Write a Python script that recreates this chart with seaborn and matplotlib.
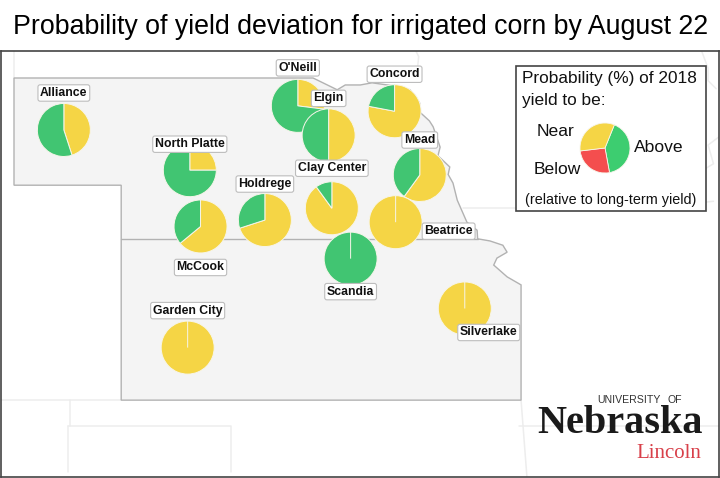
"""Probability of yield deviation for irrigated corn, pies on a state map."""
import matplotlib
matplotlib.use("Agg")
import matplotlib.pyplot as plt
from matplotlib.patches import Rectangle
from matplotlib.transforms import Affine2D
import seaborn as sns

sns.set_theme(style="white")
plt.rcParams["font.family"] = ["Liberation Sans", "DejaVu Sans"]

# ── data ──────────────────────────────────────────────────────────────────────
SITES = ["Alliance", "North Platte", "McCook", "Holdrege", "O'Neill", "Elgin", "Concord",
         "Mead", "Clay Center", "Beatrice", "Scandia", "Silverlake", "Garden City"]
LON = [-103.12, -100.77, -100.57, -99.37, -98.755, -98.18, -96.95,
       -96.48, -98.12, -96.93, -97.77, -95.64, -100.81]
LAT = [42.03, 41.28, 40.23, 40.35, 42.48, 41.93, 42.38,
       41.19, 40.57, 40.31, 39.63, 38.70, 37.97]
NEAR = [45, 25, 64, 70, 27, 50, 78, 60, 90, 100, 0, 100, 100]
ABOVE = [55, 75, 36, 30, 73, 50, 22, 40, 10, 0, 100, 0, 0]

KEY_ABOVE, KEY_BELOW, KEY_NEAR = 41, 26, 33

# state outline, clockwise from the north-west corner (lon, lat)
STATE_LON = [-104.05, -98.47, -98.02, -97.87, -97.59, -97.37, -96.94, -96.66, -96.48, -96.52,
             -96.42, -96.30, -96.23, -96.10, -96.14, -95.92, -95.95, -95.86, -95.78, -95.60,
             -95.41, -95.40, -95.17, -94.93, -94.85, -95.04, -95.10, -94.85, -94.59,
             -94.59, -102.05, -102.05, -104.05]
STATE_LAT = [43.00, 43.00, 42.78, 42.87, 42.87, 42.91, 42.85, 42.78, 42.53, 42.40,
             42.31, 42.20, 42.09, 41.71, 41.55, 41.34, 41.20, 41.04, 40.72, 40.31,
             40.16, 40.00, 39.96, 39.88, 39.75, 39.64, 39.51, 39.29, 39.14,
             36.99, 36.99, 41.00, 41.00]
BORDER_LON = [-102.05, -95.40]
BORDER_LAT = [40.00, 40.00]

# faint neighbouring borders as (lons, lats)
NEIGHBOURS = [
    ([-104.05, -104.05], [43.00, 43.50]),
    ([-104.31, -102.05], [36.99, 36.99]),
    ([-103.00, -103.00], [36.99, 36.50]),
    ([-103.04, -100.00, -100.00], [36.50, 36.50, 35.65]),
    ([-103.04, -103.04], [36.50, 35.65]),
    ([-94.59, -94.48], [36.99, 35.55]),
    ([-94.62, -90.90], [36.50, 36.50]),
    ([-95.67, -94.70, -93.90], [40.58, 40.58, 40.58]),
    ([-92.20, -91.95, -91.00], [40.58, 40.60, 40.70]),
    ([-91.25, -91.00, -91.10, -90.90], [41.25, 41.40, 41.75, 41.90]),
    ([-96.55, -96.50, -96.52, -96.52], [43.50, 43.40, 43.20, 43.00]),
    ([-91.22, -91.10, -91.10, -90.95], [43.50, 43.18, 42.95, 42.80]),
]

LEAF_GREEN, GOLD, RED = "#41C572", "#F5D545", "#F44E4E"
GRID_K = 53.6  # px per degree
LON_LEFT = -104.05 - 13 / GRID_K
LAT_TOP = 43.0 + 27 / GRID_K
PIE_R = 26.5 / GRID_K

# label offsets from the pie centre, px
LABEL_DX = [0, 0, 0, 0, 0, 0, 0, 0, 0, 53, 0, 24, 0]
LABEL_DY = [-37, -26, 41, -36, -38, -37, -37, -35, -40, 9, 33, 24, -37]


def draw_pie(ax, values, colors, lon, lat, radius, start=90):
    # a zero slice still leaves its thin radial line, so it goes on top
    pairs = sorted(zip(values, colors), key=lambda p: p[0] == 0)
    ax.pie([p[0] for p in pairs], colors=[p[1] for p in pairs], center=(lon, lat),
           radius=radius, startangle=start, counterclock=False, frame=True,
           wedgeprops={"edgecolor": "#F7F5EA", "linewidth": 0.7})


fig = plt.figure(figsize=(7.2, 4.78), dpi=100)
ax = fig.add_axes([1 / 720, 1 / 478, 718 / 720, 426 / 478])
px = Affine2D().scale(1, -1).translate(0, 478)

for lons, lats in NEIGHBOURS:
    sns.lineplot(x=lons, y=lats, sort=False, estimator=None, color="#EDEDED", lw=1.1, ax=ax,
                 legend=False)
ax.fill(STATE_LON, STATE_LAT, facecolor="#F4F4F4", edgecolor="#B2B2B2", lw=1.0, zorder=2.5)
sns.lineplot(x=BORDER_LON, y=BORDER_LAT, sort=False, estimator=None, color="#B2B2B2", lw=1.0,
             ax=ax, legend=False, zorder=2.6)

for site_lon, site_lat, near, above in zip(LON, LAT, NEAR, ABOVE):
    draw_pie(ax, [near, above], [GOLD, LEAF_GREEN], site_lon, site_lat, PIE_R)
for wedge in ax.patches[1:]:
    wedge.set_zorder(3)

for site, site_lon, site_lat, dx, dy in zip(SITES, LON, LAT, LABEL_DX, LABEL_DY):
    ax.annotate(site, (site_lon, site_lat), xytext=(dx * 0.72, -dy * 0.72),
                textcoords="offset points", ha="center", va="center", fontsize=8.8,
                fontweight="bold", color="#111111", zorder=6,
                bbox={"boxstyle": "round,pad=0.18", "fc": "white", "ec": "#BDBDBD", "lw": 0.8})

ax.set_aspect("equal")
for spine in ax.spines.values():
    spine.set_edgecolor("#444444")
    spine.set_linewidth(1.2)

fig.text(361, 27, "Probability of yield deviation for irrigated corn by August 22", transform=px,
         ha="center", va="center", fontsize=19.3, color="black")

# key box
ax.add_patch(Rectangle((516, 66), 190, 145, transform=px, fc="white", ec="#444444", lw=1.2,
                       zorder=7))
key = dict(transform=px, color="#111111", zorder=9, va="center", clip_on=False)
ax.text(522, 79, "Probability (%) of 2018", fontsize=12.4, **key)
ax.text(522, 101, "yield to be:", fontsize=12.4, **key)
ax.text(537, 132, "Near", fontsize=12.6, **key)
ax.text(634, 148, "Above", fontsize=12.6, **key)
ax.text(534, 170, "Below", fontsize=12.6, **key)
ax.text(525, 200, "(relative to long-term yield)", fontsize=10.4, **key)

key_lon = LON_LEFT + (605 - 1) / GRID_K
key_lat = LAT_TOP - (148 - 51) / GRID_K
ax.pie([KEY_ABOVE, KEY_BELOW, KEY_NEAR], colors=["#3DCD70", RED, GOLD], center=(key_lon, key_lat),
       radius=25 / GRID_K, startangle=68, counterclock=False, frame=True,
       wedgeprops={"edgecolor": "#F7F5EA", "linewidth": 0.6, "zorder": 8})

# wordmark
fig.text(537, 433, "Nebraska", transform=px, family="Liberation Serif", fontweight="bold",
         fontsize=29, color="#1A1A1A", va="baseline")
fig.text(597, 403, "UNIVERSITY", transform=px, fontsize=7.6, color="#333333", va="baseline")
fig.text(668, 403, "OF", transform=px, fontsize=7.6, color="#333333", va="baseline")
fig.text(636, 458, "Lincoln", transform=px, family="Liberation Serif", fontsize=15,
         color="#D8404A", va="baseline")

ax.set_xlim(LON_LEFT, LON_LEFT + 718 / GRID_K)
ax.set_ylim(LAT_TOP - 426 / GRID_K, LAT_TOP)
ax.set_xticks([])
ax.set_yticks([])
fig.savefig("out.png", dpi=100)
